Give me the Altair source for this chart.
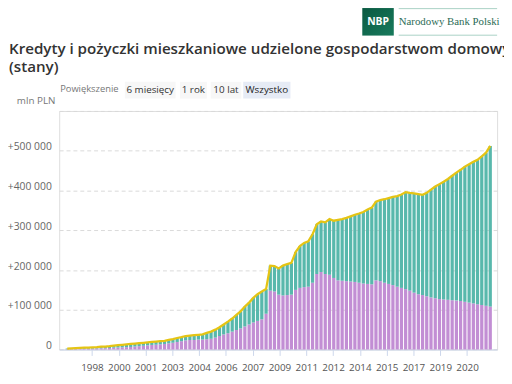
import altair as alt
import pandas as pd

# ---- data (thousands of mln PLN) ----
# quarterly points: Dec 1996, then Mar/Jun/Sep/Dec of each year 1997..2021
total_k = [
    2.5,
    3, 3.5, 4, 4.5,        # 1997
    5, 5.5, 6, 7,          # 1998
    7.5, 8.5, 10, 11,      # 1999
    12, 13, 14, 15,        # 2000
    16, 17, 18, 19,        # 2001
    20, 21, 22, 24,        # 2002
    26, 29, 31, 34,        # 2003
    35, 36, 37, 38,        # 2004
    42, 45, 50, 56,        # 2005
    63, 70, 78, 87,        # 2006
    96, 108, 118, 130,     # 2007
    139, 146, 152, 211,    # 2008
    210, 204, 211, 215,    # 2009
    218, 245, 260, 268,    # 2010
    272, 290, 315, 322,    # 2011
    320, 328, 324, 326,    # 2012
    328, 331, 335, 339,    # 2013
    342, 346, 352, 357,    # 2014
    372, 376, 378, 381,    # 2015
    384, 386, 390, 396,    # 2016
    394, 393, 391, 389,    # 2017
    394, 402, 410, 416,    # 2018
    422, 429, 437, 445,    # 2019
    452, 460, 466, 472,    # 2020
    477, 486, 495, 512,    # 2021
]
fx_k = [
    1,
    1.2, 1.5, 1.7, 2,
    2.2, 2.5, 2.8, 3,
    3.3, 3.8, 4.5, 5,
    5.5, 6, 6.5, 7.5,
    8.5, 9.5, 10.5, 11.5,
    12, 13, 14, 15.5,
    17, 19, 21, 23,
    24, 24, 25, 25,
    26, 27, 30, 34,
    38, 41, 45, 49,
    53, 58, 63, 68,
    72, 76, 90, 148,
    146, 138, 136, 137,
    138, 150, 155, 157,
    158, 168, 190, 195,
    190, 188, 180, 174,
    173, 172, 171, 170,
    168, 166, 165, 164,
    174, 172, 168, 165,
    162, 158, 155, 152,
    148, 143, 139, 137,
    134, 131, 129, 127,
    126, 125, 124, 123,
    122, 120, 118, 116,
    114, 112, 110, 108,
]
series_names = ["Kredyty w walutach obcych", "Kredyty w złotych"]
series_colors = ["#c28ed4", "#58b8ac"]
x_tick_dates = ["1998-06-01", "2000-01-01", "2001-08-01", "2003-03-01", "2004-10-01",
                "2006-05-01", "2007-12-01", "2009-07-01", "2011-02-01", "2012-09-01",
                "2014-04-01", "2015-11-01", "2017-06-01", "2019-01-01", "2020-08-01"]
y_ticks = [0, 100000, 200000, 300000, 400000, 500000, 600000]
title_text = "Kredyty i pożyczki mieszkaniowe udzielone gospodarstwom domowym"
subtitle_text = "(stany)"
zoom_buttons = ["6 miesięcy", "1 rok", "10 lat", "Wszystko"]

dates = (pd.date_range("1996-12-01", periods=len(total_k), freq="3MS")
         + pd.Timedelta(days=14)).strftime("%Y-%m-%d").tolist()

rows = []
for d, t, f in zip(dates, total_k, fx_k):
    rows.append({"date": d, "series": series_names[0], "value": f * 1000, "ord": 0})
    rows.append({"date": d, "series": series_names[1], "value": (t - f) * 1000, "ord": 1})
df_bars = pd.DataFrame(rows)
df_total = pd.DataFrame({"date": dates, "total": [t * 1000 for t in total_k]})

W, H = 445, 242.4

x_scale = alt.Scale(domain=["1996-10-08", "2022-01-26"])
x_axis = alt.Axis(values=x_tick_dates, format="%Y", title=None, grid=False,
                  domainColor="#ccd6eb", tickColor="#ccd6eb", tickSize=6,
                  labelFontSize=10, labelColor="#555555", labelPadding=7,
                  labelFont="Open Sans")
y_scale = alt.Scale(domain=[0, 600000], nice=False)
y_axis = alt.Axis(values=y_ticks, title=None, domain=False, ticks=False, tickSize=0,
                  labelPadding=8, labelFontSize=10.5, labelColor="#666666",
                  labelFont="Open Sans", labelBaseline="alphabetic", labelOffset=-1,
                  labelExpr="datum.value == 0 ? '0' : (datum.value >= 600000 ? '' : '+' + floor(datum.value/1000) + ' 000')",
                  gridColor="#d9d9d9", gridDash=[4, 3], gridWidth=1)

bars = alt.Chart(df_bars).mark_bar(size=3.3).encode(
    x=alt.X("date:T", scale=x_scale, axis=x_axis),
    y=alt.Y("value:Q", stack="zero", scale=y_scale, axis=y_axis),
    color=alt.Color("series:N", scale=alt.Scale(domain=series_names, range=series_colors),
                    legend=None),
    order=alt.Order("ord:Q"),
)

line = alt.Chart(df_total).mark_line(color="#e5c414", strokeWidth=2.3).encode(
    x=alt.X("date:T", scale=x_scale, axis=x_axis),
    y=alt.Y("total:Q", scale=y_scale, axis=y_axis),
)

one = alt.Data(values=[{}])


def txt(s, x, y, **kw):
    return alt.Chart(one).mark_text(text=s, align=kw.pop("align", "left"),
                                    baseline="middle", **kw).encode(
        x=alt.value(x), y=alt.value(y))


def box(x1, x2, y1, y2, color):
    return alt.Chart(one).mark_rect(color=color).encode(
        x=alt.value(x1), x2=alt.value(x2), y=alt.value(y1), y2=alt.value(y2))


def hrule(x1, x2, y, color):
    return alt.Chart(one).mark_rule(color=color, strokeWidth=1).encode(
        x=alt.value(x1), x2=alt.value(x2), y=alt.value(y))


deco = [
    # logo
    alt.Chart(one).mark_rect(color=alt.LinearGradient(
        gradient="linear", x1=0, x2=1, y1=0, y2=1,
        stops=[alt.GradientStop(color="#0a5a42", offset=0),
               alt.GradientStop(color="#187a5c", offset=1)])).encode(
        x=alt.value(308), x2=alt.value(340), y=alt.value(-104.6), y2=alt.value(-76.6)),
    txt("NBP", 324, -90.6, align="center", color="white", fontSize=10.5,
        fontWeight="bold", font="Open Sans"),
    hrule(345, 445, -104, "#a9d1c5"),
    hrule(345, 445, -77, "#a9d1c5"),
    txt("Narodowy Bank Polski", 345, -90.6, color="#2b6b56", fontSize=11,
        font="Liberation Serif"),
    # title
    txt(title_text, -51, -63.1, color="#333333", fontSize=15.4, fontWeight=600,
        font="Open Sans"),
    txt(subtitle_text, -51, -44.6, color="#333333", fontSize=15.4, fontWeight=600,
        font="Open Sans"),
    # range selector
    txt("mln PLN", -43, -9.6, color="#777777", fontSize=10, font="Open Sans"),
    txt("Powiększenie", 1, -22.6, color="#777777", fontSize=9.5, font="Open Sans"),
    box(66.7, 118.3, -29.6, -12.6, "#f7f7f7"),
    box(122.7, 150, -29.6, -12.6, "#f7f7f7"),
    box(154, 185, -29.6, -12.6, "#f7f7f7"),
    box(187, 235, -29.6, -12.6, "#e6ebf5"),
    txt(zoom_buttons[0], 92.5, -21.6, align="center", color="#333333", fontSize=10, font="Open Sans"),
    txt(zoom_buttons[1], 136.3, -21.6, align="center", color="#333333", fontSize=10, font="Open Sans"),
    txt(zoom_buttons[2], 169.5, -21.6, align="center", color="#333333", fontSize=10, font="Open Sans"),
    txt(zoom_buttons[3], 211, -21.6, align="center", color="#222222", fontSize=10, font="Open Sans"),
]

chart = alt.layer(bars, line, *deco).properties(
    width=W, height=H,
    autosize=alt.AutoSizeParams(type="none"),
    padding={"left": 52, "right": 7, "top": 101.6, "bottom": 32},
).configure_view(stroke=None).configure(font="Open Sans", background="white")

chart.save("out.html", embed_options={"renderer": "svg", "actions": False})
